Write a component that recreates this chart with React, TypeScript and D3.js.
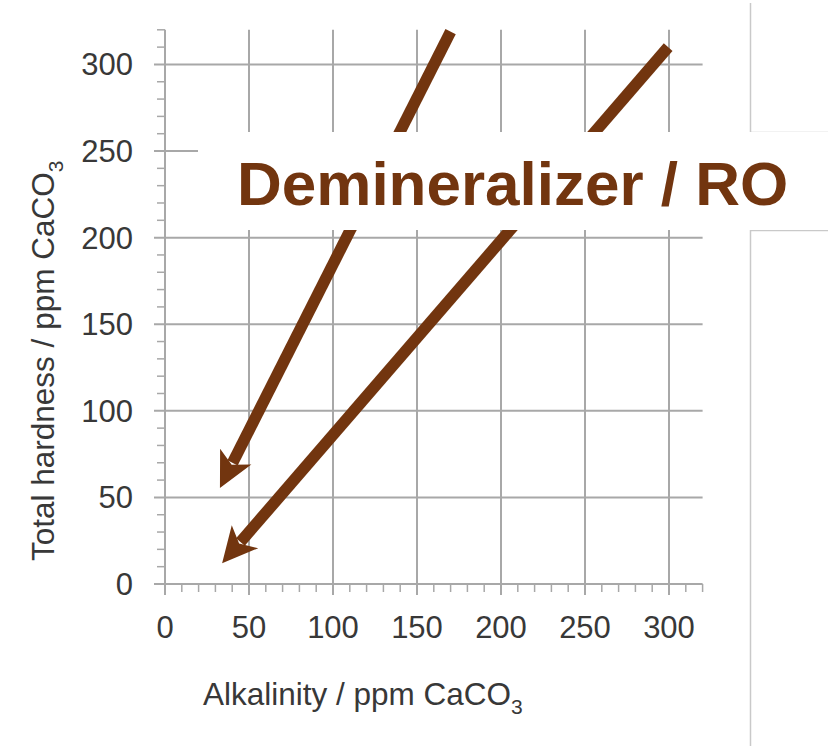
import React, { useRef, useEffect } from "react";
import * as d3 from "d3";

// axis ticks (ppm CaCO3)
const xTicks = [0, 50, 100, 150, 200, 250, 300];
const yTicks = [0, 50, 100, 150, 200, 250, 300];
const axisMax = 320;

// arrows: [alkalinity, hardness] start -> tip
const arrowStarts: [number, number][] = [
  [170, 319],
  [299.5, 310],
];
const arrowTips: [number, number][] = [
  [32.7, 55.5],
  [34, 12],
];

const label = "Demineralizer / RO";

const W = 828;
const H = 746;

const App: React.FC = () => {
  const ref = useRef<SVGSVGElement | null>(null);

  useEffect(() => {
    const svg = d3.select(ref.current);
    svg.selectAll("*").remove();

    const x = d3.scaleLinear().domain([0, axisMax]).range([165, 702.6]);
    const y = d3.scaleLinear().domain([0, axisMax]).range([584, 29.8]);

    const grid = "#a8a8a8";
    const brown = "#72350f";
    const font = "'Liberation Sans', Arial, Helvetica, sans-serif";

    svg.append("rect").attr("width", W).attr("height", H).attr("fill", "#fff");

    // slide frame lines on the right
    const frame = svg.append("g").attr("stroke", "#c9c9c9").attr("stroke-width", 1.5).attr("fill", "none");
    frame.append("path").attr("d", `M750.5,3V132.5H${W}`);
    frame.append("path").attr("d", `M${W},230.5H750.5V${H}`);

    const g = svg.append("g");

    // minor ticks every 10
    const minor = d3.range(0, axisMax + 1, 10).filter((v) => v % 50 !== 0);
    g.selectAll(".mx")
      .data(minor)
      .enter()
      .append("line")
      .attr("x1", (d) => x(d))
      .attr("x2", (d) => x(d))
      .attr("y1", y(0))
      .attr("y2", y(0) + 8)
      .attr("stroke", grid)
      .attr("stroke-width", 1.5);
    g.selectAll(".my")
      .data(minor)
      .enter()
      .append("line")
      .attr("x1", x(0) - 8)
      .attr("x2", x(0))
      .attr("y1", (d) => y(d))
      .attr("y2", (d) => y(d))
      .attr("stroke", grid)
      .attr("stroke-width", 1.5);

    // major grid lines
    g.selectAll(".gx")
      .data(xTicks)
      .enter()
      .append("line")
      .attr("x1", (d) => x(d))
      .attr("x2", (d) => x(d))
      .attr("y1", y(axisMax))
      .attr("y2", y(0) + 11)
      .attr("stroke", grid)
      .attr("stroke-width", 2);
    g.selectAll(".gy")
      .data(yTicks)
      .enter()
      .append("line")
      .attr("x1", x(0) - 11)
      .attr("x2", x(axisMax))
      .attr("y1", (d) => y(d))
      .attr("y2", (d) => y(d))
      .attr("stroke", grid)
      .attr("stroke-width", 2);

    // tick labels
    g.selectAll(".tx")
      .data(xTicks)
      .enter()
      .append("text")
      .attr("x", (d) => x(d))
      .attr("y", 638)
      .attr("text-anchor", "middle")
      .attr("font-family", font)
      .attr("font-size", 31)
      .attr("fill", "#383838")
      .text((d) => d);
    g.selectAll(".ty")
      .data(yTicks)
      .enter()
      .append("text")
      .attr("x", 133)
      .attr("y", (d) => y(d) + 11)
      .attr("text-anchor", "end")
      .attr("font-family", font)
      .attr("font-size", 31)
      .attr("fill", "#383838")
      .text((d) => d);

    // axis titles
    const xt = svg
      .append("text")
      .attr("x", 203)
      .attr("y", 705)
      .attr("font-family", font)
      .attr("font-size", 31.5)
      .attr("fill", "#383838");
    xt.append("tspan").text("Alkalinity / ppm CaCO");
    xt.append("tspan").attr("dy", 9).attr("font-size", 21).text("3");

    const yt = svg
      .append("text")
      .attr("transform", `translate(54,561) rotate(-90)`)
      .attr("font-family", font)
      .attr("font-size", 31.5)
      .attr("fill", "#383838");
    yt.append("tspan").text("Total hardness / ppm CaCO");
    yt.append("tspan").attr("dy", 9).attr("font-size", 21).text("3");

    // arrows
    const headLen = 35;
    const headHalf = 17.5;
    const notch = 9;
    arrowStarts.forEach((s, i) => {
      const t = arrowTips[i];
      const x0 = x(s[0]);
      const y0 = y(s[1]);
      const x1 = x(t[0]);
      const y1 = y(t[1]);
      const len = Math.hypot(x1 - x0, y1 - y0);
      const ux = (x1 - x0) / len;
      const uy = (y1 - y0) / len;
      const px = -uy;
      const py = ux;
      const bx = x1 - ux * headLen;
      const by = y1 - uy * headLen;
      const nx = x1 - ux * (headLen - notch);
      const ny = y1 - uy * (headLen - notch);
      g.append("line")
        .attr("x1", x0)
        .attr("y1", y0)
        .attr("x2", nx - ux * 2)
        .attr("y2", ny - uy * 2)
        .attr("stroke", brown)
        .attr("stroke-width", 11.5);
      const pts: [number, number][] = [
        [x1, y1],
        [bx + px * headHalf, by + py * headHalf],
        [nx, ny],
        [bx - px * headHalf, by - py * headHalf],
      ];
      g.append("path")
        .attr("d", d3.line()(pts) + "Z")
        .attr("fill", brown);
    });

    // text box covering the grid
    svg
      .append("rect")
      .attr("x", 198)
      .attr("y", 132)
      .attr("width", W - 198)
      .attr("height", 98)
      .attr("fill", "#fff");
    svg
      .append("text")
      .attr("x", 237)
      .attr("y", 205)
      .attr("font-family", font)
      .attr("font-weight", "bold")
      .attr("font-size", 62)
      .attr("fill", brown)
      .text(label);
  }, []);

  return (
    <svg
      ref={ref}
      width={W}
      height={H}
      style={{ position: "absolute", left: 0, top: 0, display: "block" }}
    />
  );
};

export default App;
